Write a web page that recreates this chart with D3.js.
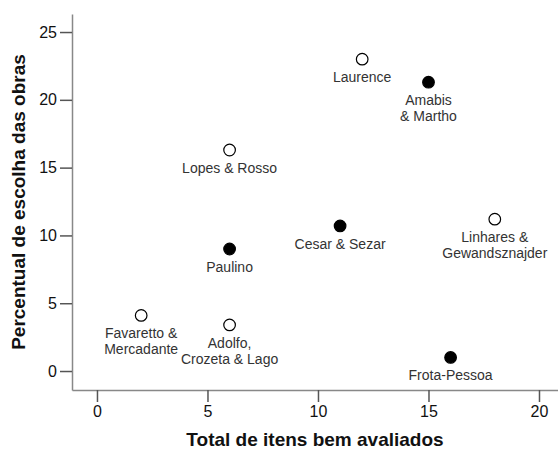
<!DOCTYPE html>
<html>
<head>
<meta charset="utf-8">
<script src="https://cdn.jsdelivr.net/npm/d3@7"></script>
<style>
  body { margin: 0; background: #fff; }
  svg { display: block; font-family: "Liberation Sans", Arial, sans-serif; }
</style>
</head>
<body>
<svg id="chart"></svg>
<script>
// dados
const obras = ["Laurence", "Amabis & Martho", "Lopes & Rosso", "Cesar & Sezar", "Linhares & Gewandsznajder", "Paulino", "Favaretto & Mercadante", "Adolfo, Crozeta & Lago", "Frota-Pessoa"];
const itens = [12, 15, 6, 11, 18, 6, 2, 6, 16];
const percentual = [23.0, 21.3, 16.3, 10.7, 11.2, 9.0, 4.1, 3.4, 1.0];
const preenchido = [false, true, false, true, false, true, false, false, true];
const rotulos = [["Laurence"], ["Amabis", "& Martho"], ["Lopes & Rosso"], ["Cesar & Sezar"], ["Linhares &", "Gewandsznajder"], ["Paulino"], ["Favaretto &", "Mercadante"], ["Adolfo,", "Crozeta & Lago"], ["Frota-Pessoa"]];
const xTicks = [0, 5, 10, 15, 20];
const yTicks = [0, 5, 10, 15, 20, 25];

const width = 558;
const height = 452;
const margin = { top: 14, right: 0, bottom: 62, left: 72 };

const svg = d3.select("#chart").attr("width", width).attr("height", height);

const x = d3.scaleLinear()
    .domain([-1.13, 20.86])
    .range([margin.left, width - margin.right]);

const y = d3.scaleLinear()
    .domain([-1.4, 26.33])
    .range([height - margin.bottom, margin.top]);

const data = obras.map((d, i) => ({ nome: d, x: itens[i], y: percentual[i], fill: preenchido[i], label: rotulos[i] }));

// eixos
const gx = svg.append("g")
    .attr("transform", `translate(0, ${height - margin.bottom})`)
    .call(d3.axisBottom(x).tickValues(xTicks).tickSize(12).tickPadding(4).tickSizeOuter(0));

const gy = svg.append("g")
    .attr("transform", `translate(${margin.left}, 0)`)
    .call(d3.axisLeft(y).tickValues(yTicks).tickSize(12).tickPadding(3).tickSizeOuter(0));

[gx, gy].forEach(g => {
    g.select(".domain").attr("stroke", "#888").attr("stroke-width", 1.5);
    g.selectAll(".tick line").attr("stroke", "#555").attr("stroke-width", 1.5);
    g.selectAll(".tick text").attr("fill", "#111").attr("font-size", "16px");
});

// pontos
svg.append("g")
    .selectAll("circle")
    .data(data)
    .join("circle")
    .attr("cx", d => x(d.x))
    .attr("cy", d => y(d.y))
    .attr("r", 5.8)
    .attr("fill", d => d.fill ? "#000" : "#fff")
    .attr("stroke", "#000")
    .attr("stroke-width", 1.2);

// rótulos
const lab = svg.append("g")
    .selectAll("text")
    .data(data)
    .join("text")
    .attr("text-anchor", "middle")
    .attr("font-size", "14px")
    .attr("fill", "#333")
    .attr("x", d => x(d.x))
    .attr("y", d => y(d.y) + 23);

lab.selectAll("tspan")
    .data(d => d.label.map(l => ({ l, cx: x(d.x) })))
    .join("tspan")
    .attr("x", d => d.cx)
    .attr("dy", (d, i) => i === 0 ? 0 : 16)
    .text(d => d.l);

// títulos
svg.append("text")
    .attr("x", (margin.left + width - margin.right) / 2)
    .attr("y", 446)
    .attr("text-anchor", "middle")
    .attr("font-size", "19px")
    .attr("font-weight", "bold")
    .attr("fill", "#111")
    .text("Total de itens bem avaliados");

svg.append("text")
    .attr("transform", `translate(25, ${(margin.top + height - margin.bottom) / 2}) rotate(-90)`)
    .attr("text-anchor", "middle")
    .attr("font-size", "19px")
    .attr("font-weight", "bold")
    .attr("fill", "#111")
    .text("Percentual de escolha das obras");
</script>
</body>
</html>
